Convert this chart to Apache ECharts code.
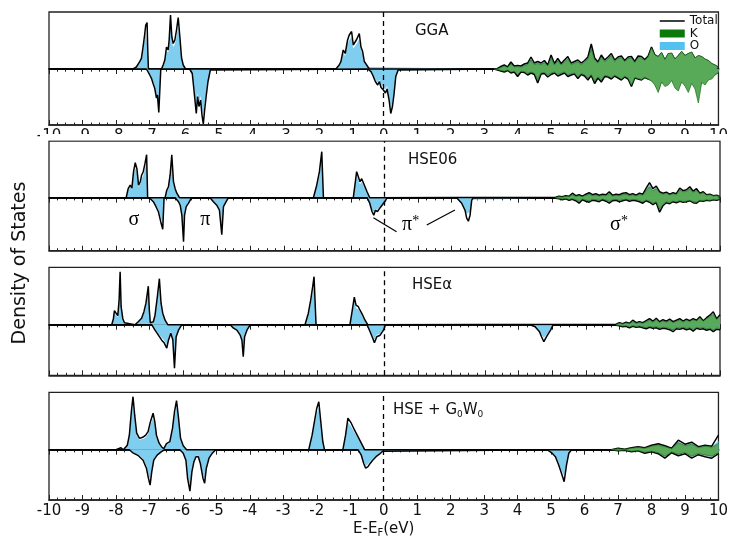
<!DOCTYPE html>
<html><head><meta charset="utf-8">
<script src="https://cdn.jsdelivr.net/npm/echarts@6/dist/echarts.min.js"></script>
<style>html,body{margin:0;padding:0;background:#fff}#c{width:731px;height:541px}</style>
</head><body><div id="c"></div>
<script>
// ---------- tick labels ----------
const xTicks = [-10,-9,-8,-7,-6,-5,-4,-3,-2,-1,0,1,2,3,4,5,6,7,8,9,10];
const panelNames = ['GGA','HSE06','HSEα','HSE + G{s|0}W{s|0}'];

// ---------- Panel 1: GGA ----------
const g1TotUp = [[-10,0],[-7.49,0],[-7.39,0.2],[-7.29,0.73],[-7.24,1.07],[-7.19,2.2],[-7.14,3.5],[-7.11,4.4],[-7.07,4.65],[-7.05,2.0],[-7.03,0],
[-6.64,0],[-6.59,0.4],[-6.54,0.9],[-6.49,2.2],[-6.44,1.9],[-6.41,2.9],[-6.37,5.4],[-6.33,3.2],[-6.29,2.55],[-6.24,2.9],[-6.19,3.9],[-6.14,5.15],[-6.09,3.2],[-6.04,1.1],[-5.99,0.4],[-5.92,0],
[-1.43,0],[-1.33,0.4],[-1.28,0.73],[-1.21,1.9],[-1.15,1.55],[-1.08,2.9],[-1.03,3.4],[-0.96,3.75],[-0.91,2.4],[-0.86,2.2],[-0.81,2.95],[-0.73,3.55],[-0.68,2.2],[-0.63,1.75],[-0.58,0.75],[-0.48,0.25],[-0.43,0]];
const g1OUp = [[-7.49,0],[-7.39,0.15],[-7.29,0.6],[-7.24,0.9],[-7.19,1.85],[-7.14,3.0],[-7.11,3.8],[-7.07,4.0],[-7.05,1.7],[-7.03,0],
[-6.64,0],[-6.59,0.35],[-6.54,0.75],[-6.49,1.9],[-6.44,1.6],[-6.41,2.5],[-6.37,4.5],[-6.33,2.8],[-6.29,2.2],[-6.24,2.5],[-6.19,3.3],[-6.14,4.3],[-6.09,2.7],[-6.04,0.9],[-5.99,0.3],[-5.92,0],
[-1.43,0],[-1.33,0.35],[-1.28,0.6],[-1.21,1.6],[-1.15,1.3],[-1.08,2.5],[-1.03,2.9],[-0.96,3.2],[-0.91,2.05],[-0.86,1.9],[-0.81,2.5],[-0.73,3.0],[-0.68,1.9],[-0.63,1.5],[-0.58,0.6],[-0.48,0.2],[-0.43,0]];
const g1TotDn = [[-10,0],[-7.09,0],[-6.99,-0.6],[-6.94,-0.93],[-6.89,-1.45],[-6.84,-1.95],[-6.79,-2.9],[-6.76,-2.6],[-6.72,-4.35],[-6.69,-4.45],[-6.66,0],
[-5.80,0],[-5.72,-0.45],[-5.68,-1.75],[-5.64,-3.1],[-5.60,-4.45],[-5.56,-2.75],[-5.52,-3.75],[-5.47,-3.1],[-5.43,-4.6],[-5.39,-5.5],[-5.35,-4.1],[-5.30,-2.6],[-5.25,-1.25],[-5.18,-0.1],[-5.15,0],
[-0.48,0],[-0.38,-0.27],[-0.33,-0.6],[-0.25,-1.25],[-0.18,-1.6],[-0.13,-1.25],[-0.08,-1.85],[-0.01,-2.1],[0.05,-2.4],[0.1,-2.0],[0.16,-3.1],[0.21,-4.45],[0.26,-3.75],[0.31,-2.45],[0.36,-0.75],[0.43,-0.1],[0.46,0]];
const g1ODn = [[-7.09,0],[-6.99,-0.5],[-6.94,-0.8],[-6.89,-1.25],[-6.84,-1.7],[-6.79,-2.5],[-6.76,-2.3],[-6.72,-3.8],[-6.69,-3.9],[-6.66,0],
[-5.80,0],[-5.72,-0.4],[-5.68,-1.5],[-5.64,-2.7],[-5.60,-3.9],[-5.56,-2.4],[-5.52,-3.3],[-5.47,-2.7],[-5.43,-4.0],[-5.39,-4.7],[-5.35,-3.5],[-5.30,-2.2],[-5.25,-1.05],[-5.18,-0.08],[-5.15,0],
[-0.48,0],[-0.38,-0.22],[-0.33,-0.5],[-0.25,-1.05],[-0.18,-1.35],[-0.13,-1.05],[-0.08,-1.55],[-0.01,-1.8],[0.05,-2.05],[0.1,-1.7],[0.16,-2.7],[0.21,-3.9],[0.26,-3.3],[0.31,-2.1],[0.36,-0.65],[0.43,-0.08],[0.46,0]];
// conduction band, E = 3.3 ... 10.0 step 0.1
const g1CondStart = 3.3, g1CondStep = 0.1;
const g1CTotUp = [0,0.05,0.25,0.4,0.2,0.7,0.3,0.35,0.3,0.5,0.6,1.2,0.6,0.75,0.6,0.85,0.4,1.4,0.55,1.05,0.55,0.9,1.25,0.6,0.75,0.9,0.6,0.85,1.2,2.5,1.1,0.7,1.4,0.9,1.2,1.55,0.9,1.2,1.3,0.85,1.2,1.25,0.75,1.3,1.25,0.95,1.3,2.2,1.4,1.2,1.6,0.9,1.5,1.55,0.95,1.3,1.7,1.3,1.5,1.65,1.05,1.3,1.2,0.95,0.8,0.5,0.35,0.15];
const g1CTotDn = [0,-0.1,-0.2,-0.3,-0.15,-0.4,-0.3,-0.75,-0.3,-0.35,-0.6,-0.4,-0.55,-1.4,-0.5,-0.45,-0.8,-0.55,-0.4,-0.7,-0.55,-0.4,-0.75,-0.6,-0.5,-0.95,-0.55,-0.7,-1.1,-0.65,-1.45,-0.9,-1.3,-0.75,-0.8,-1.0,-0.7,-0.9,-1.1,-0.8,-1.0,-1.75,-0.9,-1.0,-1.1,-0.85,-1.0,-1.1,-1.4,-2.1,-1.1,-1.5,-1.35,-0.95,-1.6,-1.85,-1.1,-1.4,-1.95,-1.2,-1.6,-2.25,-1.1,-1.3,-0.9,-0.8,-0.5,-0.3];
const g1CKUp = [0,0.03,0.15,0.3,0.15,0.5,0.2,0.25,0.2,0.35,0.45,0.9,0.45,0.55,0.45,0.65,0.3,1.1,0.4,0.8,0.4,0.7,1.0,0.45,0.6,0.7,0.45,0.7,1.0,2.0,0.9,0.6,1.2,0.75,1.0,1.35,0.75,1.05,1.15,0.75,1.05,1.1,0.65,1.15,1.1,0.85,1.2,2.1,1.4,1.25,1.65,0.95,1.55,1.6,1.0,1.35,1.75,1.35,1.55,1.7,1.1,1.35,1.25,1.0,0.85,0.55,0.4,0.2];
const g1COUp = [0,0.04,0.22,0.36,0.18,0.62,0.27,0.3,0.27,0.45,0.55,1.1,0.55,0.68,0.55,0.78,0.36,1.3,0.5,0.95,0.5,0.82,1.15,0.55,0.68,0.82,0.55,0.78,1.1,2.3,1.0,0.65,1.3,0.82,1.1,1.45,0.82,1.1,1.2,0.78,1.1,1.15,0.7,1.2,1.15,0.85,1.1,1.8,1.1,0.95,1.25,0.7,1.15,1.2,0.75,1.0,1.3,1.0,1.15,1.25,0.8,1.0,0.9,0.75,0.6,0.4,0.28,0.12];
const g1CKDn = [0,-0.06,-0.14,-0.22,-0.1,-0.3,-0.22,-0.55,-0.22,-0.26,-0.45,-0.3,-0.42,-1.05,-0.38,-0.34,-0.6,-0.42,-0.3,-0.55,-0.42,-0.3,-0.6,-0.48,-0.4,-0.78,-0.45,-0.58,-0.9,-0.55,-1.2,-0.78,-1.1,-0.65,-0.7,-0.88,-0.62,-0.8,-1.0,-0.72,-0.9,-1.6,-0.85,-0.95,-1.05,-0.82,-1.0,-1.2,-1.6,-2.35,-1.3,-1.75,-1.6,-1.15,-1.9,-2.2,-1.3,-1.7,-2.35,-1.45,-2.0,-3.4,-1.35,-1.6,-1.1,-1.0,-0.6,-0.35];
const g1CODn = [0,-0.08,-0.18,-0.27,-0.13,-0.36,-0.27,-0.68,-0.27,-0.32,-0.54,-0.36,-0.5,-1.25,-0.45,-0.4,-0.72,-0.5,-0.36,-0.63,-0.5,-0.36,-0.68,-0.54,-0.45,-0.86,-0.5,-0.63,-1.0,-0.6,-1.3,-0.82,-1.18,-0.68,-0.72,-0.92,-0.64,-0.82,-1.0,-0.72,-0.9,-1.6,-0.82,-0.9,-1.0,-0.78,-0.9,-1.0,-1.25,-1.9,-1.0,-1.35,-1.2,-0.85,-1.45,-1.65,-1.0,-1.25,-1.75,-1.1,-1.45,-2.6,-1.0,-1.15,-0.8,-0.7,-0.45,-0.25];

// ---------- Panel 2: HSE06 ----------
const g2TotUp = [[-10,0],[-7.70,0],[-7.64,0.9],[-7.58,1.25],[-7.53,0.95],[-7.48,2.6],[-7.43,3.5],[-7.38,2.9],[-7.33,1.25],[-7.28,1.6],[-7.24,2.25],[-7.19,2.6],[-7.14,3.4],[-7.09,4.3],[-7.06,0],
[-6.54,0],[-6.49,0.75],[-6.44,1.1],[-6.39,2.25],[-6.34,4.3],[-6.29,1.6],[-6.24,0.9],[-6.19,0.45],[-6.11,0],
[-2.12,0],[-2.02,1.25],[-1.94,2.6],[-1.87,4.6],[-1.82,0],
[-0.93,0],[-0.83,2.6],[-0.73,1.6],[-0.68,1.9],[-0.60,1.25],[-0.52,0.6],[-0.44,0]];
const g2OUp = [[-7.70,0],[-7.64,0.75],[-7.58,1.05],[-7.53,0.8],[-7.48,2.2],[-7.43,3.0],[-7.38,2.5],[-7.33,1.05],[-7.28,1.35],[-7.24,1.9],[-7.19,2.2],[-7.14,2.9],[-7.09,3.7],[-7.06,0],
[-6.54,0],[-6.49,0.65],[-6.44,0.95],[-6.39,1.9],[-6.34,3.6],[-6.29,1.35],[-6.24,0.75],[-6.19,0.38],[-6.11,0],
[-2.12,0],[-2.02,1.05],[-1.94,2.2],[-1.87,3.9],[-1.82,0],
[-0.93,0],[-0.83,2.2],[-0.73,1.35],[-0.68,1.6],[-0.60,1.05],[-0.52,0.5],[-0.44,0]];
const g2TotDn = [[-10,0],[-7.01,0],[-6.89,-0.4],[-6.81,-0.9],[-6.74,-1.4],[-6.67,-2.4],[-6.61,-3.15],[-6.57,0],
[-6.24,0],[-6.14,-0.4],[-6.09,-0.75],[-6.04,-1.75],[-5.99,-4.4],[-5.96,-1.75],[-5.91,-0.9],[-5.84,-0.55],[-5.75,0],
[-5.20,0],[-5.10,-0.4],[-5.00,-0.75],[-4.92,-1.25],[-4.85,-3.7],[-4.80,-0.9],[-4.72,-0.4],[-4.65,0],
[-0.52,0],[-0.44,-0.55],[-0.37,-1.4],[-0.32,-1.75],[-0.27,-1.25],[-0.21,-1.4],[-0.13,-1.0],[-0.03,-0.55],[0.03,-0.3],[0.07,0],
[2.15,0],[2.30,-0.55],[2.40,-1.25],[2.45,-2.05],[2.50,-2.35],[2.55,-1.75],[2.60,-0.25],[2.65,0]];
const g2ODn = [[-7.01,0],[-6.89,-0.35],[-6.81,-0.8],[-6.74,-1.2],[-6.67,-2.0],[-6.61,-2.6],[-6.57,0],
[-6.24,0],[-6.14,-0.35],[-6.09,-0.65],[-6.04,-1.5],[-5.99,-3.6],[-5.96,-1.5],[-5.91,-0.8],[-5.84,-0.45],[-5.75,0],
[-5.20,0],[-5.10,-0.35],[-5.00,-0.65],[-4.92,-1.05],[-4.85,-3.0],[-4.80,-0.8],[-4.72,-0.35],[-4.65,0],
[-0.52,0],[-0.44,-0.5],[-0.37,-1.2],[-0.32,-1.5],[-0.27,-1.1],[-0.21,-1.2],[-0.13,-0.85],[-0.03,-0.5],[0.03,-0.25],[0.07,0],
[2.15,0],[2.30,-0.5],[2.40,-1.15],[2.45,-1.6],[2.50,-1.55],[2.55,-1.4],[2.60,-0.2],[2.65,0]];
// E = 5.1 ... 10.0 step 0.1
const g2CondStart = 5.1, g2CondStep = 0.1;
const g2CTotUp = [0.05,0.15,0.1,0.2,0.15,0.45,0.2,0.3,0.15,0.35,0.5,0.3,0.4,0.25,0.35,0.3,0.6,0.25,0.35,0.3,0.45,0.5,0.3,0.4,0.25,0.45,0.35,0.95,1.5,0.9,1.15,0.6,0.45,0.55,0.35,0.5,0.4,0.95,0.7,0.8,1.1,0.65,0.9,0.45,0.6,0.3,0.35,0.2,0.25,0.1];
const g2CTotDn = [-0.05,-0.1,-0.2,-0.1,-0.25,-0.15,-0.3,-0.55,-0.2,-0.35,-0.45,-0.25,-0.3,-0.4,-0.2,-0.35,-0.55,-0.3,-0.25,-0.4,-0.3,-0.2,-0.35,-0.25,-0.3,-0.4,-0.55,-0.3,-0.45,-0.7,-0.5,-1.45,-0.8,-0.5,-0.6,-0.4,-0.5,-0.35,-0.45,-0.4,-0.3,-0.5,-0.55,-0.3,-0.35,-0.25,-0.3,-0.2,-0.25,-0.15];
const g2CKUp = [0.03,0.1,0.06,0.13,0.1,0.3,0.13,0.2,0.1,0.24,0.35,0.2,0.28,0.17,0.24,0.2,0.42,0.17,0.25,0.2,0.32,0.36,0.22,0.3,0.18,0.33,0.26,0.7,1.1,0.7,0.9,0.48,0.36,0.44,0.28,0.4,0.32,0.78,0.58,0.66,0.9,0.54,0.74,0.38,0.5,0.25,0.3,0.17,0.2,0.08];
const g2COUp = [0.04,0.13,0.08,0.17,0.13,0.38,0.17,0.26,0.13,0.3,0.43,0.26,0.34,0.21,0.3,0.26,0.52,0.21,0.3,0.26,0.38,0.43,0.26,0.34,0.21,0.38,0.3,0.82,1.3,0.78,1.0,0.52,0.38,0.47,0.3,0.43,0.34,0.82,0.6,0.7,0.95,0.56,0.78,0.38,0.52,0.26,0.3,0.17,0.21,0.08];
const g2CKDn = [-0.03,-0.07,-0.14,-0.07,-0.17,-0.1,-0.2,-0.38,-0.14,-0.24,-0.32,-0.17,-0.2,-0.28,-0.14,-0.24,-0.38,-0.2,-0.17,-0.28,-0.2,-0.14,-0.24,-0.17,-0.2,-0.3,-0.42,-0.24,-0.36,-0.56,-0.4,-1.15,-0.66,-0.42,-0.5,-0.34,-0.42,-0.3,-0.38,-0.34,-0.26,-0.42,-0.46,-0.26,-0.3,-0.21,-0.26,-0.17,-0.21,-0.12];
const g2CODn = [-0.04,-0.08,-0.17,-0.08,-0.21,-0.13,-0.26,-0.47,-0.17,-0.3,-0.38,-0.21,-0.26,-0.34,-0.17,-0.3,-0.47,-0.26,-0.21,-0.34,-0.26,-0.17,-0.3,-0.21,-0.26,-0.34,-0.47,-0.26,-0.38,-0.6,-0.43,-1.2,-0.68,-0.43,-0.51,-0.34,-0.43,-0.3,-0.38,-0.34,-0.26,-0.43,-0.47,-0.26,-0.3,-0.21,-0.26,-0.17,-0.21,-0.13];

// ---------- Panel 3: HSEα ----------
const g3TotUp = [[-10,0],[-8.13,0],[-8.08,0.6],[-8.05,1.4],[-8.00,1.3],[-7.95,0.9],[-7.91,2.5],[-7.88,5.3],[-7.85,1.8],[-7.80,0.6],[-7.75,0.2],[-7.70,0],
[-7.44,0],[-7.34,0.3],[-7.24,0.65],[-7.17,1.3],[-7.11,2.15],[-7.04,3.85],[-7.01,1.5],[-6.98,0.2],
[-6.95,0.2],[-6.89,0.3],[-6.84,0.95],[-6.77,2.8],[-6.71,4.6],[-6.66,2.15],[-6.61,1.15],[-6.54,0.45],[-6.46,0],
[-2.37,0],[-2.27,1.15],[-2.20,2.45],[-2.14,3.8],[-2.10,4.8],[-2.04,0],
[-1.03,0],[-0.96,1.45],[-0.90,2.75],[-0.85,1.95],[-0.78,1.8],[-0.73,1.45],[-0.65,0.95],[-0.58,0.45],[-0.50,0]];
const g3OUp = [[-8.13,0],[-8.08,0.5],[-8.05,1.2],[-8.00,1.1],[-7.95,0.75],[-7.91,2.1],[-7.88,4.5],[-7.85,1.5],[-7.80,0.5],[-7.75,0.15],[-7.70,0],
[-7.44,0],[-7.34,0.25],[-7.24,0.55],[-7.17,1.1],[-7.11,1.85],[-7.04,3.3],[-7.01,1.3],[-6.98,0.15],
[-6.95,0.15],[-6.89,0.25],[-6.84,0.8],[-6.77,2.4],[-6.71,3.9],[-6.66,1.85],[-6.61,1.0],[-6.54,0.38],[-6.46,0],
[-2.37,0],[-2.27,1.0],[-2.20,2.1],[-2.14,3.2],[-2.10,4.0],[-2.04,0],
[-1.03,0],[-0.96,1.25],[-0.90,2.35],[-0.85,1.65],[-0.78,1.55],[-0.73,1.25],[-0.65,0.8],[-0.58,0.38],[-0.50,0]];
const g3TotDn = [[-10,0],[-6.94,0],[-6.84,-0.55],[-6.74,-1.05],[-6.64,-1.55],[-6.57,-1.8],[-6.49,-2.35],[-6.44,-1.55],[-6.37,-0.85],[-6.31,-1.5],[-6.26,-4.35],[-6.21,-1.2],[-6.14,-0.55],[-6.04,0],
[-4.60,0],[-4.50,-0.35],[-4.40,-0.55],[-4.30,-1.05],[-4.25,-1.55],[-4.21,-3.2],[-4.17,-1.2],[-4.10,-0.55],[-4.00,0],
[-0.52,0],[-0.43,-0.7],[-0.35,-1.35],[-0.30,-1.8],[-0.23,-1.2],[-0.13,-1.05],[-0.03,-0.55],[0.03,0],
[4.34,0],[4.49,-0.2],[4.62,-0.7],[4.68,-1.2],[4.75,-1.7],[4.83,-1.2],[4.88,-1.35],[4.95,-0.55],[5.03,0]];
const g3ODn = [[-6.94,0],[-6.84,-0.45],[-6.74,-0.9],[-6.64,-1.3],[-6.57,-1.55],[-6.49,-2.0],[-6.44,-1.3],[-6.37,-0.7],[-6.31,-1.25],[-6.26,-3.6],[-6.21,-1.0],[-6.14,-0.45],[-6.04,0],
[-4.60,0],[-4.50,-0.3],[-4.40,-0.45],[-4.30,-0.9],[-4.25,-1.3],[-4.21,-2.7],[-4.17,-1.0],[-4.10,-0.45],[-4.00,0],
[-0.52,0],[-0.43,-0.6],[-0.35,-1.15],[-0.30,-1.5],[-0.23,-1.0],[-0.13,-0.9],[-0.03,-0.45],[0.03,0],
[4.34,0],[4.49,-0.15],[4.62,-0.6],[4.68,-1.0],[4.75,-1.3],[4.83,-1.0],[4.88,-1.1],[4.95,-0.45],[5.03,0]];
// E = 6.9 ... 10.0 step 0.1
const g3CondStart = 6.9, g3CondStep = 0.1;
const g3CTotUp = [0.05,0.2,0.1,0.25,0.15,0.45,0.2,0.3,0.2,0.4,0.6,0.35,0.65,0.3,0.5,0.35,0.55,0.3,0.45,0.6,0.35,0.55,0.4,0.6,0.45,0.8,0.4,0.7,0.95,1.3,0.6,1.0];
const g3CTotDn = [-0.05,-0.1,-0.2,-0.15,-0.3,-0.15,-0.25,-0.2,-0.3,-0.4,-0.25,-0.35,-0.3,-0.45,-0.35,-0.4,-0.5,-0.7,-0.4,-0.45,-0.35,-0.5,-0.4,-0.65,-0.35,-0.45,-0.4,-0.55,-0.45,-0.7,-0.45,-0.5];
const g3CKUp = [0.03,0.14,0.07,0.18,0.1,0.32,0.14,0.22,0.14,0.3,0.45,0.26,0.5,0.22,0.38,0.26,0.42,0.22,0.35,0.48,0.28,0.45,0.32,0.5,0.38,0.68,0.34,0.6,0.8,1.05,0.5,0.85];
const g3COUp = [0.04,0.17,0.08,0.21,0.12,0.38,0.17,0.25,0.17,0.34,0.5,0.3,0.55,0.25,0.42,0.3,0.46,0.25,0.38,0.5,0.3,0.46,0.34,0.5,0.38,0.66,0.34,0.58,0.78,1.05,0.5,0.82];
const g3CKDn = [-0.03,-0.07,-0.14,-0.1,-0.22,-0.1,-0.18,-0.14,-0.22,-0.3,-0.18,-0.26,-0.22,-0.34,-0.26,-0.3,-0.38,-0.52,-0.3,-0.34,-0.26,-0.38,-0.3,-0.5,-0.26,-0.34,-0.3,-0.42,-0.34,-0.55,-0.34,-0.38];
const g3CODn = [-0.04,-0.08,-0.17,-0.12,-0.25,-0.12,-0.21,-0.17,-0.25,-0.34,-0.21,-0.3,-0.25,-0.38,-0.3,-0.34,-0.42,-0.6,-0.34,-0.38,-0.3,-0.42,-0.34,-0.55,-0.3,-0.38,-0.34,-0.46,-0.38,-0.6,-0.38,-0.42];

// ---------- Panel 4: HSE + G0W0 ----------
const g4TotUp = [[-10,0],[-8.00,0],[-7.95,0.2],[-7.85,0.2],[-7.78,0],
[-7.73,0],[-7.66,0.45],[-7.60,1.45],[-7.54,3.8],[-7.49,5.3],[-7.44,3.45],[-7.38,1.65],[-7.30,1.15],[-7.24,1.2],[-7.17,1.3],[-7.11,1.45],[-7.04,1.8],[-6.97,2.8],[-6.89,3.65],[-6.84,2.8],[-6.79,1.45],[-6.71,0.65],[-6.64,0.3],[-6.57,0.1],[-6.49,0.6],[-6.44,0.6],
[-6.39,0.8],[-6.31,2.15],[-6.25,3.8],[-6.19,4.9],[-6.13,3.15],[-6.07,1.15],[-5.99,0.4],[-5.89,0],
[-2.24,0],[-2.14,1.45],[-2.07,2.8],[-2.00,4.15],[-1.94,4.8],[-1.88,2.8],[-1.82,0.8],[-1.77,0],
[-1.22,0],[-1.14,1.45],[-1.07,3.15],[-0.97,2.65],[-0.87,1.95],[-0.77,1.3],[-0.67,0.65],[-0.57,0]];
const g4OUp = [[-8.00,0],[-7.95,0.15],[-7.85,0.15],[-7.78,0],
[-7.73,0],[-7.66,0.4],[-7.60,1.3],[-7.54,3.3],[-7.49,4.6],[-7.44,3.0],[-7.38,1.45],[-7.30,1.0],[-7.24,1.05],[-7.17,1.1],[-7.11,1.25],[-7.04,1.55],[-6.97,2.45],[-6.89,3.2],[-6.84,2.45],[-6.79,1.25],[-6.71,0.55],[-6.64,0.25],[-6.57,0.08],[-6.49,0.5],[-6.44,0.5],
[-6.39,0.7],[-6.31,1.9],[-6.25,3.3],[-6.19,4.3],[-6.13,2.75],[-6.07,1.0],[-5.99,0.35],[-5.89,0],
[-2.24,0],[-2.14,1.3],[-2.07,2.45],[-2.00,3.6],[-1.94,4.2],[-1.88,2.45],[-1.82,0.7],[-1.77,0],
[-1.22,0],[-1.14,1.3],[-1.07,2.75],[-0.97,2.3],[-0.87,1.7],[-0.77,1.15],[-0.67,0.55],[-0.57,0]];
const g4TotDn = [[-10,0],[-7.60,0],[-7.48,-0.35],[-7.33,-0.6],[-7.19,-1.05],[-7.09,-1.85],[-7.03,-2.85],[-6.98,-3.55],[-6.93,-2.2],[-6.87,-1.05],[-6.77,-0.55],[-6.64,-0.2],[-6.54,0],
[-6.09,0],[-5.99,-0.35],[-5.91,-1.05],[-5.86,-2.85],[-5.79,-4.15],[-5.73,-2.2],[-5.67,-1.2],[-5.61,-0.7],[-5.54,-0.7],[-5.48,-1.35],[-5.40,-2.85],[-5.35,-3.35],[-5.30,-1.85],[-5.22,-0.85],[-5.12,-0.35],[-5.02,0],
[-0.77,0],[-0.67,-0.55],[-0.60,-1.35],[-0.54,-1.85],[-0.47,-1.7],[-0.40,-1.35],[-0.33,-1.05],[-0.23,-0.7],[-0.13,-0.45],[-0.03,-0.15],[0.02,0],
[4.88,0],[5.03,-0.35],[5.13,-0.7],[5.23,-1.55],[5.31,-2.35],[5.39,-3.2],[5.46,-1.55],[5.53,-0.35],[5.61,0]];
const g4ODn = [[-7.60,0],[-7.48,-0.3],[-7.33,-0.5],[-7.19,-0.9],[-7.09,-1.6],[-7.03,-2.45],[-6.98,-3.05],[-6.93,-1.9],[-6.87,-0.9],[-6.77,-0.45],[-6.64,-0.15],[-6.54,0],
[-6.09,0],[-5.99,-0.3],[-5.91,-0.9],[-5.86,-2.45],[-5.79,-3.6],[-5.73,-1.9],[-5.67,-1.05],[-5.61,-0.6],[-5.54,-0.6],[-5.48,-1.15],[-5.40,-2.45],[-5.35,-2.9],[-5.30,-1.6],[-5.22,-0.75],[-5.12,-0.3],[-5.02,0],
[-0.77,0],[-0.67,-0.45],[-0.60,-1.15],[-0.54,-1.6],[-0.47,-1.45],[-0.40,-1.15],[-0.33,-0.9],[-0.23,-0.6],[-0.13,-0.38],[-0.03,-0.12],[0.02,0],
[4.88,0],[5.03,-0.3],[5.13,-0.6],[5.23,-1.35],[5.31,-2.05],[5.39,-2.6],[5.46,-1.35],[5.53,-0.3],[5.61,0]];
// E = 6.8 ... 10.0 step 0.2
const g4CondStart = 6.8, g4CondStep = 0.2;
const g4CTotUp = [0,0.15,0.05,0.2,0.3,0.2,0.45,0.6,0.4,0.15,0.95,0.55,0.75,0.3,0.45,0.35,1.45];
const g4CTotDn = [0,-0.1,-0.05,-0.2,-0.1,-0.35,-0.2,-0.4,-0.85,-0.3,-0.6,-0.4,-0.85,-0.5,-0.7,-0.85,-0.4];
const g4CKUp = [0,0.1,0.03,0.15,0.22,0.15,0.35,0.45,0.3,0.1,0.7,0.4,0.55,0.22,0.35,0.25,0.6];
const g4COUp = [0,0.12,0.04,0.17,0.26,0.17,0.4,0.52,0.35,0.12,0.82,0.48,0.65,0.26,0.4,0.3,0.9];
const g4CKDn = [0,-0.07,-0.03,-0.15,-0.07,-0.26,-0.15,-0.3,-0.65,-0.22,-0.45,-0.3,-0.65,-0.38,-0.52,-0.65,-0.3];
const g4CODn = [0,-0.08,-0.04,-0.17,-0.08,-0.3,-0.17,-0.34,-0.72,-0.26,-0.52,-0.34,-0.72,-0.42,-0.6,-0.72,-0.34];

// annotation labels (panel 2)
const annoText = ['σ','π','π{sup|*}','σ{sup|*}'];
const annoPos = [[-7.47,-2.25],[-5.34,-2.25],[0.78,-2.75],[6.99,-2.75]];
const piStarLines = [[[-0.33,-2.0],[0.36,-3.4]],[[1.26,-2.73],[2.10,-1.23]]];

// ---------- build ----------
function grid(start, step, vals){ return vals.map((v,i)=>[Math.round((start+step*i)*100)/100, v]); }
const panels = [
  {tu:g1TotUp.concat(grid(g1CondStart,g1CondStep,g1CTotUp)), td:g1TotDn.concat(grid(g1CondStart,g1CondStep,g1CTotDn)),
   ou:g1OUp.concat(grid(g1CondStart,g1CondStep,g1COUp)), od:g1ODn.concat(grid(g1CondStart,g1CondStep,g1CODn)),
   ku:grid(g1CondStart,g1CondStep,g1CKUp), kd:grid(g1CondStart,g1CondStep,g1CKDn)},
  {tu:g2TotUp.concat(grid(g2CondStart,g2CondStep,g2CTotUp)), td:g2TotDn.concat(grid(g2CondStart,g2CondStep,g2CTotDn)),
   ou:g2OUp.concat(grid(g2CondStart,g2CondStep,g2COUp)), od:g2ODn.concat(grid(g2CondStart,g2CondStep,g2CODn)),
   ku:grid(g2CondStart,g2CondStep,g2CKUp), kd:grid(g2CondStart,g2CondStep,g2CKDn)},
  {tu:g3TotUp.concat(grid(g3CondStart,g3CondStep,g3CTotUp)), td:g3TotDn.concat(grid(g3CondStart,g3CondStep,g3CTotDn)),
   ou:g3OUp.concat(grid(g3CondStart,g3CondStep,g3COUp)), od:g3ODn.concat(grid(g3CondStart,g3CondStep,g3CODn)),
   ku:grid(g3CondStart,g3CondStep,g3CKUp), kd:grid(g3CondStart,g3CondStep,g3CKDn)},
  {tu:g4TotUp.concat(grid(g4CondStart,g4CondStep,g4CTotUp)), td:g4TotDn.concat(grid(g4CondStart,g4CondStep,g4CTotDn)),
   ou:g4OUp.concat(grid(g4CondStart,g4CondStep,g4COUp)), od:g4ODn.concat(grid(g4CondStart,g4CondStep,g4CODn)),
   ku:grid(g4CondStart,g4CondStep,g4CKUp), kd:grid(g4CondStart,g4CondStep,g4CKDn)}
];

const gridBoxes = [[12,113],[141,109.7],[267.3,108],[392.3,107.7]];
const yRanges = [[-5.6,5.7],[-5.3,5.67],[-5.06,5.74],[-5.03,5.74]];
const titleTops = [22,151,276,401];
const titleLefts = [415,408,412,393];

const AX = '#222', FONT = 'DejaVu Sans';
const grids=[], xAxes=[], yAxes=[], series=[], titles=[];
panels.forEach((p,i)=>{
  grids.push({left:49, right:11, top:gridBoxes[i][0], height:gridBoxes[i][1], show:true, borderColor:AX, borderWidth:1.3, backgroundColor:'transparent'});
  xAxes.push({type:'value', gridIndex:i, min:-10, max:10, interval:1, position:'bottom',
    axisLine:{onZero:false, lineStyle:{color:AX, width:1.6}},
    axisTick:{inside:true, length:5, lineStyle:{color:AX, width:1}},
    minorTick:{show:true, splitNumber:4, length:2.5, lineStyle:{color:AX, width:1}},
    splitLine:{show:false}, minorSplitLine:{show:false},
    axisLabel:{show:(i===0||i===3), color:'#111', fontSize:15, fontFamily:FONT, margin:4},
    name: i===3 ? 'E-E{sub|F}(eV)' : '', nameLocation:'middle', nameGap:20,
    nameTextStyle:{color:'#111', fontSize:15, fontFamily:FONT, rich:{sub:{fontSize:10, fontFamily:FONT, color:'#111', padding:[8,0,0,0]}}}
  });
  xAxes.push({type:'value', gridIndex:i, min:-10, max:10, interval:1, position:'top',
    axisLine:{onZero:true, lineStyle:{color:AX, width:2}},
    axisTick:{inside:true, length:5, lineStyle:{color:AX, width:1}},
    minorTick:{show:true, splitNumber:4, length:2.7, lineStyle:{color:AX, width:1}},
    splitLine:{show:false}, minorSplitLine:{show:false}, axisLabel:{show:false}
  });
  yAxes.push({type:'value', gridIndex:i, min:yRanges[i][0], max:yRanges[i][1],
    axisLine:{show:false}, axisTick:{show:false}, axisLabel:{show:false}, splitLine:{show:false}});
  titles.push({text:panelNames[i], left:titleLefts[i], top:titleTops[i], padding:0,
    textStyle:{fontSize:15, fontWeight:'normal', color:'#111', fontFamily:FONT, lineHeight:18,
      rich:{s:{fontSize:9, fontFamily:FONT, color:'#111', verticalAlign:'bottom', lineHeight:8}}}});
  const xi = 2*i, yi = i;
  const base = {type:'line', xAxisIndex:xi, yAxisIndex:yi, symbol:'none', showSymbol:false, silent:true, animation:false};
  const oStyle = {name:'O', lineStyle:{width:0, color:'#7fcdef'}, itemStyle:{color:'#55c1ee'}, areaStyle:{color:'#7fcdef', opacity:1}, z:2};
  const kStyle = {name:'K', lineStyle:{width:0.7, color:'#1e6f1e'}, itemStyle:{color:'#0b7a0b'}, areaStyle:{color:'#58a958', opacity:1}, z:4};
  const tStyle = {name:'Total', lineStyle:{width:1.5, color:'#000'}, itemStyle:{color:'#000'}, z:3};
  series.push(Object.assign({}, base, oStyle, {data:p.ou}));
  series.push(Object.assign({}, base, oStyle, {data:p.od}));
  series.push(Object.assign({}, base, tStyle, {data:p.tu,
    markLine:{silent:true, symbol:['none','none'], label:{show:false}, animation:false,
      lineStyle:{type:[5,4], color:'#000', width:1.3}, data:[{xAxis:0}]}}));
  const td = Object.assign({}, base, tStyle, {data:p.td});
  if (i===1) {
    td.markLine = {silent:true, symbol:['none','none'], label:{show:false}, animation:false,
      lineStyle:{type:'solid', color:'#000', width:1.2},
      data: piStarLines.map(l=>[{coord:l[0]},{coord:l[1]}])};
    td.markPoint = {silent:true, symbol:'circle', symbolSize:1, itemStyle:{color:'rgba(0,0,0,0)'}, animation:false,
      label:{show:true, position:'inside', color:'#000', fontSize:20, fontFamily:'Liberation Serif',
        formatter:(q)=>q.name, rich:{sup:{fontSize:14, fontFamily:'Liberation Serif', color:'#000', padding:[0,0,8,0]}}},
      data: annoText.map((t,k)=>({name:t, coord:annoPos[k]}))};
  }
  series.push(td);
  series.push(Object.assign({}, base, kStyle, {data:p.ku}));
  series.push(Object.assign({}, base, kStyle, {data:p.kd}));
});

const chart = echarts.init(document.getElementById('c'), null, {renderer:'canvas'});
chart.setOption({
  animation:false,
  backgroundColor:'#fff',
  title: titles,
  grid: grids, xAxis: xAxes, yAxis: yAxes, series: series,
  legend: {orient:'vertical', left:659, top:15, padding:0, itemWidth:25, itemHeight:8, itemGap:0.5,
    selectedMode:false,
    textStyle:{fontSize:12, color:'#111', fontFamily:FONT, lineHeight:10},
    data:[{name:'Total', itemStyle:{color:'rgba(0,0,0,0)', borderWidth:0, opacity:0}, lineStyle:{color:'#000', width:1.5}},
          {name:'K', icon:'rect', itemStyle:{color:'#0b7a0b'}},
          {name:'O', icon:'rect', itemStyle:{color:'#55c1ee'}}]},
  graphic: [
    {type:'rect', shape:{x:40, y:134, width:690, height:6.5}, style:{fill:'#fff'}, z:100, silent:true},
    {type:'text', x:20, y:263, rotation:Math.PI/2, z:100, silent:true,
     style:{text:'Density of States', fontSize:19, fontFamily:FONT, fill:'#111', align:'center', verticalAlign:'middle'}}
  ]
});
</script></body></html>
